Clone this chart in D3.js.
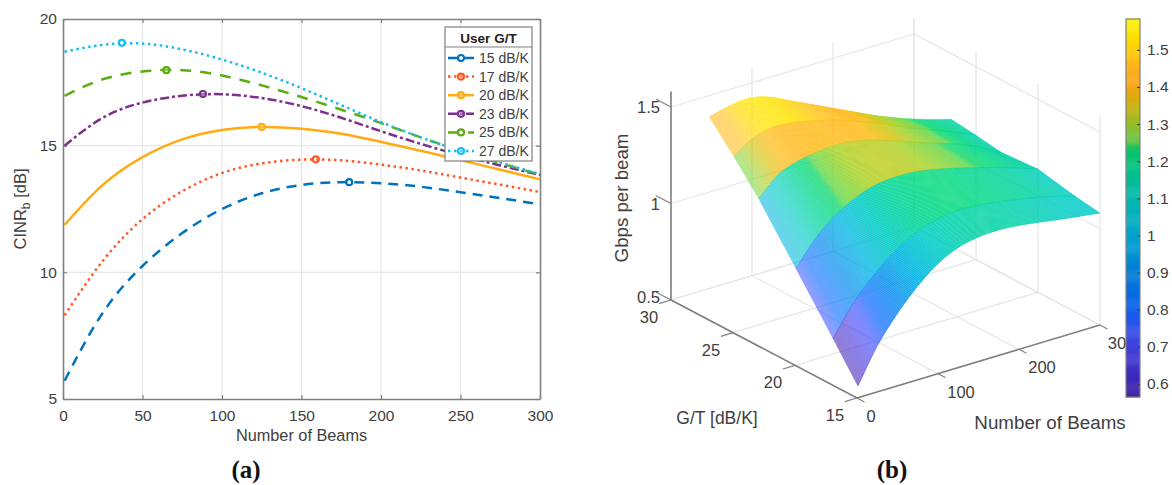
<!DOCTYPE html>
<html>
<head>
<meta charset="utf-8">
<script src="https://d3js.org/d3.v7.min.js"></script>
<style>
  html, body { margin: 0; padding: 0; background: #fff; }
  svg { display: block; font-family: "Liberation Sans", Arial, sans-serif; }
</style>
</head>
<body>
<div id="chart"></div>
<script>
// sample positions shared by both panels
const beams = [1, 25, 50, 75, 100, 125, 150, 175, 200, 225, 250, 275, 300];
const legendLabels = ['15 dB/K', '17 dB/K', '20 dB/K', '23 dB/K', '25 dB/K', '27 dB/K'];
const gtValues = [15, 17, 20, 23, 25, 27];

// panel (a): CINR_b per G/T
const cinr15 = [5.72, 8.4, 10.25, 11.55, 12.5, 13.12, 13.45, 13.56, 13.52, 13.38, 13.16, 12.93, 12.68];
const cinr17 = [8.3, 10.45, 12.1, 13.2, 13.92, 14.3, 14.45, 14.42, 14.25, 14.02, 13.74, 13.46, 13.17];
const cinr20 = [11.87, 13.45, 14.55, 15.25, 15.62, 15.74, 15.67, 15.47, 15.15, 14.8, 14.43, 14.05, 13.67];
const cinr23 = [15.0, 16.1, 16.7, 16.97, 17.03, 16.88, 16.56, 16.1, 15.57, 15.07, 14.62, 14.22, 13.84];
const cinr25 = [16.97, 17.62, 17.93, 17.98, 17.77, 17.38, 16.92, 16.42, 15.89, 15.33, 14.79, 14.31, 13.86];
const cinr27 = [18.71, 18.98, 19.03, 18.8, 18.4, 17.88, 17.27, 16.6, 15.93, 15.33, 14.8, 14.33, 13.88];
const peakBeams = [180, 159, 125, 88, 65, 37];
const peakCinr = [13.56, 14.46, 15.74, 17.04, 17.98, 19.06];

// panel (b): Gbps per beam per G/T
const rate15 = [0.56, 0.738, 0.875, 0.985, 1.07, 1.122, 1.145, 1.15, 1.142, 1.127, 1.11, 1.095, 1.08];
const rate17 = [0.738, 0.885, 1.0, 1.09, 1.15, 1.19, 1.208, 1.205, 1.192, 1.175, 1.155, 1.13, 1.1];
const rate20 = [1.0, 1.125, 1.215, 1.275, 1.31, 1.32, 1.315, 1.295, 1.27, 1.24, 1.21, 1.175, 1.139];
const rate23 = [1.26, 1.355, 1.395, 1.413, 1.42, 1.405, 1.375, 1.339, 1.3, 1.265, 1.228, 1.18, 1.125];
const rate25 = [1.41, 1.478, 1.503, 1.495, 1.472, 1.445, 1.407, 1.367, 1.32, 1.275, 1.235, 1.19, 1.145];
const rate27 = [1.55, 1.575, 1.585, 1.56, 1.51, 1.46, 1.41, 1.36, 1.31, 1.265, 1.225, 1.19, 1.16];

// tick labels
const aXTicks = [0, 50, 100, 150, 200, 250, 300];
const aYTicks = [5, 10, 15, 20];
const bBeamTicks = [0, 100, 200, 300];
const bBeamLabels = ['0', '100', '200', '30'];  // last digit sits under the colorbar in the source
const bBeamLabelDx = [14, 23, 23, 17];
const bGtTicks = [15, 20, 25, 30];
const bRateTicks = [0.5, 1, 1.5];
const barTicks = [0.6, 0.7, 0.8, 0.9, 1, 1.1, 1.2, 1.3, 1.4, 1.5];

// colours
const lineColors = ['#0072bd', '#ff5a26', '#ffab12', '#7e2f8e', '#5bad10', '#18bdf0'];
const barStops = [0.565, 0.6, 0.7, 0.75, 0.8, 0.9, 1.0, 1.1, 1.2, 1.235, 1.25, 1.3, 1.35, 1.4, 1.45, 1.5, 1.583];
const barColors = ['#3a1ea0', '#3c23b4', '#4141dc', '#3250eb', '#0a5feb', '#007dd7', '#00a5cd', '#00b9af',
  '#00c378', '#14c364', '#5ac346', '#96be28', '#c8af0a', '#f5a514', '#ffaf1e', '#ffcd00', '#faf50a'];

const width = 1172, height = 485;
const svg = d3.select('#chart').append('svg')
  .attr('width', width)
  .attr('height', height);

const textColor = '#404040', axisColor = '#808080', gridColor = '#e6e6e6';

/* ---------- panel (a) ---------- */
const a = { left: 63, right: 540, top: 19, bottom: 399 };
const x = d3.scaleLinear().domain([0, 300]).range([a.left, a.right]);
const y = d3.scaleLinear().domain([5, 20]).range([a.bottom, a.top]);

const gridA = svg.append('g').attr('stroke', gridColor).attr('stroke-width', 1.2);
gridA.selectAll('line.v').data(aXTicks.slice(1, -1)).enter().append('line')
  .attr('x1', d => x(d)).attr('x2', d => x(d)).attr('y1', a.top).attr('y2', a.bottom);
gridA.selectAll('line.h').data(aYTicks.slice(1, -1)).enter().append('line')
  .attr('y1', d => y(d)).attr('y2', d => y(d)).attr('x1', a.left).attr('x2', a.right);

const styleAxis = (sel, size) => {
  sel.select('.domain').attr('stroke', axisColor).attr('stroke-width', 1.6);
  sel.selectAll('.tick line').attr('stroke', axisColor).attr('stroke-width', 1.2);
  sel.selectAll('text').attr('fill', textColor).attr('font-size', size)
    .attr('font-family', '"Liberation Sans", Arial, sans-serif');
};

svg.append('g').attr('transform', `translate(0,${a.bottom})`)
  .call(d3.axisBottom(x).tickValues(aXTicks).tickSize(-4).tickSizeOuter(0).tickPadding(11))
  .call(styleAxis, 15.5);
svg.append('g').attr('transform', `translate(${a.left},0)`)
  .call(d3.axisLeft(y).tickValues(aYTicks).tickSize(-4).tickSizeOuter(0).tickPadding(6))
  .call(styleAxis, 15.5);
svg.append('g').attr('transform', `translate(0,${a.top})`)
  .call(d3.axisTop(x).tickValues(aXTicks).tickSize(-4).tickSizeOuter(0).tickFormat(''))
  .call(styleAxis, 15);
svg.append('g').attr('transform', `translate(${a.right},0)`)
  .call(d3.axisRight(y).tickValues(aYTicks).tickSize(-4).tickSizeOuter(0).tickFormat(''))
  .call(styleAxis, 15);

const cinrSeries = [cinr15, cinr17, cinr20, cinr23, cinr25, cinr27];
const dashes = ['10 7', '2.5 3.5', null, '9 3 3 3', '11 9', '2.5 3.5'];
const line = d3.line()
  .x((d, i) => x(beams[i]))
  .y(d => y(d))
  .curve(d3.curveNatural);

svg.selectAll('path.cinr').data(cinrSeries).enter().append('path')
  .attr('class', 'cinr')
  .attr('d', line)
  .attr('fill', 'none')
  .attr('stroke', (d, i) => lineColors[i])
  .attr('stroke-width', 2.5)
  .attr('stroke-dasharray', (d, i) => dashes[i]);

svg.selectAll('circle.peak').data(peakBeams).enter().append('circle')
  .attr('class', 'peak')
  .attr('cx', d => x(d))
  .attr('cy', (d, i) => y(peakCinr[i]))
  .attr('r', 3)
  .attr('fill', '#fff')
  .attr('fill-opacity', 0.3)
  .attr('stroke', (d, i) => lineColors[i])
  .attr('stroke-width', 2.2);

svg.append('text')
  .attr('x', (a.left + a.right) / 2).attr('y', 441)
  .attr('text-anchor', 'middle').attr('font-size', 16.3).attr('fill', textColor)
  .text('Number of Beams');

const yTitle = svg.append('text')
  .attr('transform', `translate(26,${(a.top + a.bottom) / 2}) rotate(-90)`)
  .attr('text-anchor', 'middle').attr('font-size', 16.5).attr('fill', textColor);
yTitle.append('tspan').text('CINR');
yTitle.append('tspan').attr('font-size', 12).attr('dy', 4).text('b');
yTitle.append('tspan').attr('dy', -4).text(' [dB]');

// legend, sits on top of the curves
const legend = svg.append('g');
legend.append('rect')
  .attr('x', 445).attr('y', 27).attr('width', 87).attr('height', 134)
  .attr('fill', '#fff').attr('stroke', axisColor).attr('stroke-width', 1.2);
legend.append('line')
  .attr('x1', 445).attr('x2', 532).attr('y1', 47).attr('y2', 47)
  .attr('stroke', axisColor).attr('stroke-width', 1.2);
legend.append('text')
  .attr('x', 488.5).attr('y', 42.5)
  .attr('text-anchor', 'middle').attr('font-size', 13.5).attr('font-weight', 'bold').attr('fill', '#222')
  .text('User G/T');
const legendY = d3.scalePoint().domain(legendLabels).range([58, 151]);
const rows = legend.selectAll('g.row').data(legendLabels).enter().append('g')
  .attr('class', 'row')
  .attr('transform', d => `translate(0,${legendY(d)})`);
rows.append('line')
  .attr('x1', 448).attr('x2', 474)
  .attr('stroke', (d, i) => lineColors[i]).attr('stroke-width', 2.5)
  .attr('stroke-dasharray', (d, i) => dashes[i]);
rows.append('circle')
  .attr('cx', 461).attr('r', 3)
  .attr('fill', '#fff').attr('fill-opacity', 0.3)
  .attr('stroke', (d, i) => lineColors[i]).attr('stroke-width', 2.2);
rows.append('text')
  .attr('x', 479).attr('y', 5)
  .attr('font-size', 14).attr('fill', textColor)
  .text(d => d);

/* ---------- panel (b) ---------- */
const origin = { x: 857, y: 398 };
const beamX = d3.scaleLinear().domain([0, 300]).range([0, 243]);
const beamY = d3.scaleLinear().domain([0, 300]).range([0, -73]);
const gtX = d3.scaleLinear().domain([15, 30]).range([0, -186]);
const gtY = d3.scaleLinear().domain([15, 30]).range([0, -98]);
const rateY = d3.scaleLinear().domain([0.5, 1.5]).range([0, -193]);
const rateTop = 1.58;

// oblique projection of (beams, G/T, rate) to the page
const px = (b, g) => origin.x + beamX(b) + gtX(g);
const py = (b, g, r) => origin.y + beamY(b) + gtY(g) + rateY(r);

const gridB = svg.append('g').attr('stroke', gridColor).attr('stroke-width', 1.2);
const seg = (x1, y1, x2, y2) => gridB.append('line')
  .attr('x1', x1).attr('y1', y1).attr('x2', x2).attr('y2', y2);
bBeamTicks.forEach(b => {
  seg(px(b, 15), py(b, 15, 0.5), px(b, 30), py(b, 30, 0.5));
  seg(px(b, 30), py(b, 30, 0.5), px(b, 30), py(b, 30, rateTop));
});
bGtTicks.forEach(g => {
  seg(px(0, g), py(0, g, 0.5), px(300, g), py(300, g, 0.5));
  seg(px(300, g), py(300, g, 0.5), px(300, g), py(300, g, rateTop));
});
bRateTicks.forEach(r => {
  seg(px(0, 30), py(0, 30, r), px(300, 30), py(300, 30, r));
  seg(px(300, 30), py(300, 30, r), px(300, 15), py(300, 15, r));
});

// axis lines and ticks
const axisB = svg.append('g').attr('stroke', axisColor);
const axisSeg = (x1, y1, x2, y2, w) => axisB.append('line')
  .attr('x1', x1).attr('y1', y1).attr('x2', x2).attr('y2', y2).attr('stroke-width', w);
axisSeg(px(0, 15), py(0, 15, 0.5), px(0, 30), py(0, 30, 0.5), 1.6);
axisSeg(px(0, 15), py(0, 15, 0.5), px(300, 15), py(300, 15, 0.5), 1.6);
axisSeg(px(0, 30), py(0, 30, 0.5), px(0, 30), py(0, 30, rateTop), 1.6);
bBeamTicks.forEach(b => axisSeg(px(b, 15), py(b, 15, 0.5), px(b, 14.4), py(b, 14.4, 0.5), 1.2));
bGtTicks.forEach(g => axisSeg(px(0, g), py(0, g, 0.5), px(-15, g), py(-15, g, 0.5), 1.2));
bRateTicks.forEach(r => axisSeg(px(0, 30), py(0, 30, r), px(0, 31.2), py(0, 31.2, r), 1.2));

// colours for the surface and the bar
const barScale = d3.scaleLinear().domain(barStops).range(barColors).clamp(true);
// mesh colours read a little brighter than the bar
const meshColor = v => d3.color(barScale(v)).brighter(0.3).formatHex();
// the mesh is open at few beams and closes up further along
const meshOpacity = d3.scaleLinear().domain([0, 30, 80]).range([0.55, 0.72, 0.97]).clamp(true);

// Catmull-Rom through one row of samples, ends extended straight
const along = (row, b) => {
  let i = d3.bisectRight(beams, b) - 1;
  i = Math.max(0, Math.min(beams.length - 2, i));
  const t = (b - beams[i]) / (beams[i + 1] - beams[i]);
  const p1 = row[i], p2 = row[i + 1];
  const p0 = i > 0 ? row[i - 1] : 2 * p1 - p2;
  const p3 = i < row.length - 2 ? row[i + 2] : 2 * p2 - p1;
  return 0.5 * (2 * p1 + (p2 - p0) * t + (2 * p0 - 5 * p1 + 4 * p2 - p3) * t * t + (3 * p1 - p0 - 3 * p2 + p3) * t * t * t);
};

// one cell per beam count, back strips first; each strip takes the colour of its lower G/T edge
const rateRows = [rate15, rate17, rate20, rate23, rate25, rate27];
const meshBeams = d3.range(1, 300);
const surface = svg.append('g');
d3.range(gtValues.length - 2, -1, -1).forEach(s => {
  const lo = gtValues[s], hi = gtValues[s + 1], rowLo = rateRows[s], rowHi = rateRows[s + 1];
  const strip = surface.append('g');
  // back fill so the cells behind do not show through on this strip
  strip.selectAll('path').data(meshBeams).enter().append('path')
    .attr('d', b => 'M' + [
      [px(b, lo), py(b, lo, along(rowLo, b))],
      [px(b + 1, lo), py(b + 1, lo, along(rowLo, b + 1))],
      [px(b + 1, hi), py(b + 1, hi, along(rowHi, b + 1))],
      [px(b, hi), py(b, hi, along(rowHi, b))]
    ].join('L') + 'Z')
    .attr('fill', b => meshColor(along(rowLo, b)))
    .attr('fill-opacity', b => meshOpacity(b))
    .attr('stroke', b => meshColor(along(rowLo, b)))
    .attr('stroke-opacity', b => meshOpacity(b))
    .attr('stroke-width', 0.15);
  // lower edge of the strip, thin
  strip.selectAll('line').data(meshBeams).enter().append('line')
    .attr('x1', b => px(b, lo))
    .attr('y1', b => py(b, lo, along(rowLo, b)))
    .attr('x2', b => px(b + 1, lo))
    .attr('y2', b => py(b + 1, lo, along(rowLo, b + 1)))
    .attr('stroke', b => barScale(along(rowLo, b)))
    .attr('stroke-opacity', 0.7)
    .attr('stroke-width', 0.5);
});

// tick labels, placed along the axes
const tickLabel = (tx, ty, anchor, label) => svg.append('text')
  .attr('x', tx).attr('y', ty).attr('text-anchor', anchor)
  .attr('font-size', 16.5).attr('fill', textColor).text(label);
bRateTicks.forEach(r => tickLabel(px(0, 30) - 11, py(0, 30, r) + (r === 0.5 ? 3 : 6), 'end', d3.format('.3~f')(r)));
bGtTicks.forEach(g => tickLabel(px(0, g) - 22, py(0, g, 0.5) + 23, 'middle', g));
bBeamTicks.forEach((b, i) => tickLabel(px(b, 15) + bBeamLabelDx[i], py(b, 15, 0.5) + 24, 'middle', bBeamLabels[i]));

svg.append('text').attr('x', 717).attr('y', 424).attr('text-anchor', 'middle')
  .attr('font-size', 17.5).attr('fill', textColor).text('G/T [dB/K]');
svg.append('text').attr('x', 1050).attr('y', 429).attr('text-anchor', 'middle')
  .attr('font-size', 18.8).attr('fill', textColor).text('Number of Beams');
svg.append('text').attr('transform', 'translate(628,198) rotate(-90)').attr('text-anchor', 'middle')
  .attr('font-size', 18.7).attr('fill', textColor).text('Gbps per beam');

// colorbar
const barY = d3.scaleLinear().domain([0.565, 1.583]).range([397, 19]);
const bar = svg.append('g');
bar.selectAll('rect').data(d3.range(0.565, 1.583, 0.0026)).enter().append('rect')
  .attr('x', 1126).attr('width', 14)
  .attr('y', d => barY(d) - 1).attr('height', 1.4)
  .attr('fill', d => barScale(d));
bar.append('rect').attr('x', 1126).attr('y', 19).attr('width', 14).attr('height', 378)
  .attr('fill', 'none').attr('stroke', axisColor).attr('stroke-width', 1.2);
const barAxis = svg.append('g').attr('transform', 'translate(1140,0)')
  .call(d3.axisRight(barY).tickValues(barTicks).tickSize(-3).tickSizeOuter(0).tickPadding(7).tickFormat(d3.format('.1~f')));
barAxis.call(styleAxis, 15.5);
barAxis.select('.domain').remove();
barAxis.selectAll('.tick line').attr('stroke', '#404040');

// captions
svg.append('text').attr('x', 246).attr('y', 478).attr('text-anchor', 'middle')
  .attr('font-family', '"Liberation Serif", serif').attr('font-weight', 'bold').attr('font-size', 25).attr('fill', '#111')
  .text('(a)');
svg.append('text').attr('x', 892).attr('y', 478).attr('text-anchor', 'middle')
  .attr('font-family', '"Liberation Serif", serif').attr('font-weight', 'bold').attr('font-size', 25).attr('fill', '#111')
  .text('(b)');
</script>
</body>
</html>
